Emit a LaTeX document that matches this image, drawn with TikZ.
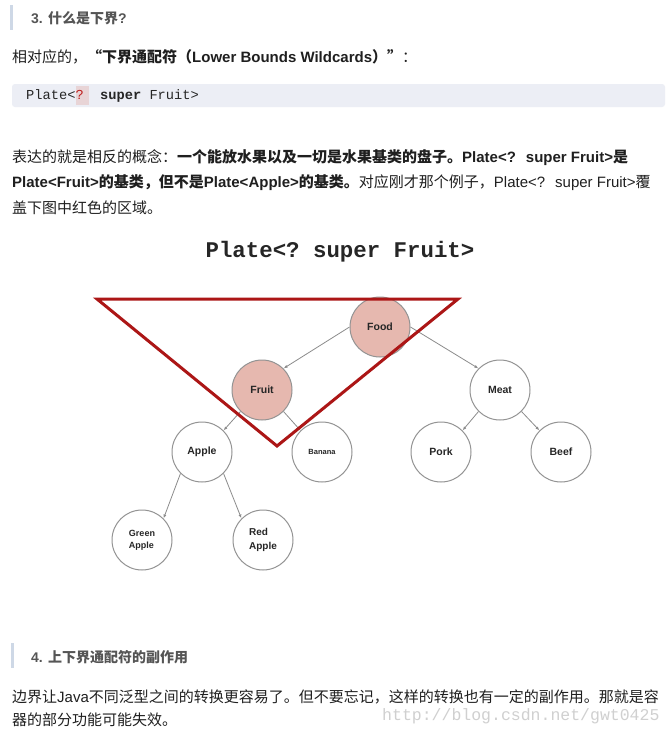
\documentclass[tikz,border=0pt]{standalone}
\usepackage{fontspec}
\usepackage{tikz, xcolor}
\usetikzlibrary{arrows.meta}
\setmainfont{Liberation Sans}
\setmonofont{Liberation Mono}
\newfontfamily\cjk{Noto Sans CJK SC}
\definecolor{barblue}{RGB}{206,216,230}
\definecolor{headgray}{RGB}{85,85,85}
\definecolor{codebg}{RGB}{236,238,245}
\definecolor{qbg}{RGB}{232,212,214}
\definecolor{qred}{RGB}{190,30,30}
\definecolor{berry}{RGB}{230,184,175}
\definecolor{platered}{RGB}{172,22,22}
\definecolor{wmgray}{RGB}{208,208,208}

\begin{document}
\begin{tikzpicture}[x=1pt,y=-1pt,
  txt/.style={anchor=west,inner sep=0pt,text=black!88,font=\fontsize{15}{18}\selectfont},
  head/.style={anchor=west,inner sep=0pt,text=headgray,font=\fontsize{14}{17}\selectfont\bfseries},
  item/.style={circle,draw=gray!85,line width=1pt,minimum size=60pt,inner sep=0pt,fill=white,text=black!85,font=\fontsize{10.5}{12}\selectfont\bfseries},
  hit/.style={item,fill=berry},
  edge/.style={draw=gray!90,line width=0.8pt,-{Latex[length=4pt,width=3pt]}}]
\fill[white] (0,0) rectangle (672,737);
\useasboundingbox (0,0) rectangle (672,737);
% heading 3
\fill[barblue] (10,5) rectangle (13,30);
\node[head] (h3) at (31,18) {3. {\cjk 什么是下界}?};
\node[txt] (intro) at (12,57) {{\cjk 相对应的，}\textbf{{\cjk “下界通配符（}Lower Bounds Wildcards{\cjk ）”}}{\cjk ：}};
% code line
\fill[codebg,rounded corners=3pt] (12,84) rectangle (665,107);
\fill[qbg] (76,86) rectangle (89,105);
\node[anchor=west,inner sep=0pt,text=black!85,font=\ttfamily\fontsize{13.7}{16}\selectfont] (code) at (26,96) {Plate<{\color{qred}?}\ \ \textbf{super}\ Fruit>};
% paragraph
\node[txt] (p1) at (12,158) {{\cjk 表达的就是相反的概念：}\textbf{{\cjk 一个能放水果以及一切是水果基类的盘子。}Plate<?\hspace{10pt}super Fruit>{\cjk 是}}};
\node[txt] (p2) at (12,183) {\textbf{Plate<Fruit>{\cjk 的基类，但不是}Plate<Apple>{\cjk 的基类。}}{\cjk 对应刚才那个例子，}Plate<?\hspace{10pt}super Fruit>{\cjk 覆}};
\node[txt] (p3) at (12,208) {{\cjk 盖下图中红色的区域。}};
% the tree
\node[inner sep=0pt,text=black!85,font=\ttfamily\bfseries\fontsize{22.4}{26}\selectfont] (title) at (340,252) {Plate<? super Fruit>};
\node[hit] (food) at (380,327) {Food};
\node[hit] (fruit) at (262,390) {Fruit};
\node[item] (meat) at (500,390) {Meat};
\node[item] (apple) at (202,452) {Apple};
\node[item,font=\fontsize{7.5}{9}\selectfont\bfseries] (banana) at (322,452) {Banana};
\node[item] (pork) at (441,452) {Pork};
\node[item] (beef) at (561,452) {Beef};
\node[item,align=left,font=\fontsize{9}{12}\selectfont\bfseries] (green) at (142,540) {Green\\Apple};
\node[item,align=left,font=\fontsize{10}{13.5}\selectfont\bfseries] (red) at (263,540) {Red\\Apple};
\draw[edge] (food.west) -- (fruit.north east);
\draw[edge] (food.east) -- (meat.north west);
\draw[edge] (fruit.south west) -- (apple.north east);
\draw[edge] (fruit.south east) -- (banana.north west);
\draw[edge] (meat.south west) -- (pork.north east);
\draw[edge] (meat.south east) -- (beef.north west);
\draw[edge] (apple.south west) -- (green.north east);
\draw[edge] (apple.south east) -- (red.north west);
% the red plate
\draw[platered,line width=3pt] (97,299) -- (458,299) -- (277,446) -- cycle;
% heading 4
\fill[barblue] (11,643) rectangle (14,668);
\node[head] (h4) at (31,657) {4. {\cjk 上下界通配符的副作用}};
\node[txt] (q1) at (12,697) {{\cjk 边界让}Java{\cjk 不同泛型之间的转换更容易了。但不要忘记，这样的转换也有一定的副作用。那就是容}};
\node[txt] (q2) at (12,720) {{\cjk 器的部分功能可能失效。}};
\node[anchor=west,inner sep=0pt,text=wmgray,font=\ttfamily\fontsize{16.5}{18}\selectfont] (wm) at (382,716) {http://blog.csdn.net/gwt0425};
\end{tikzpicture}
\end{document}
